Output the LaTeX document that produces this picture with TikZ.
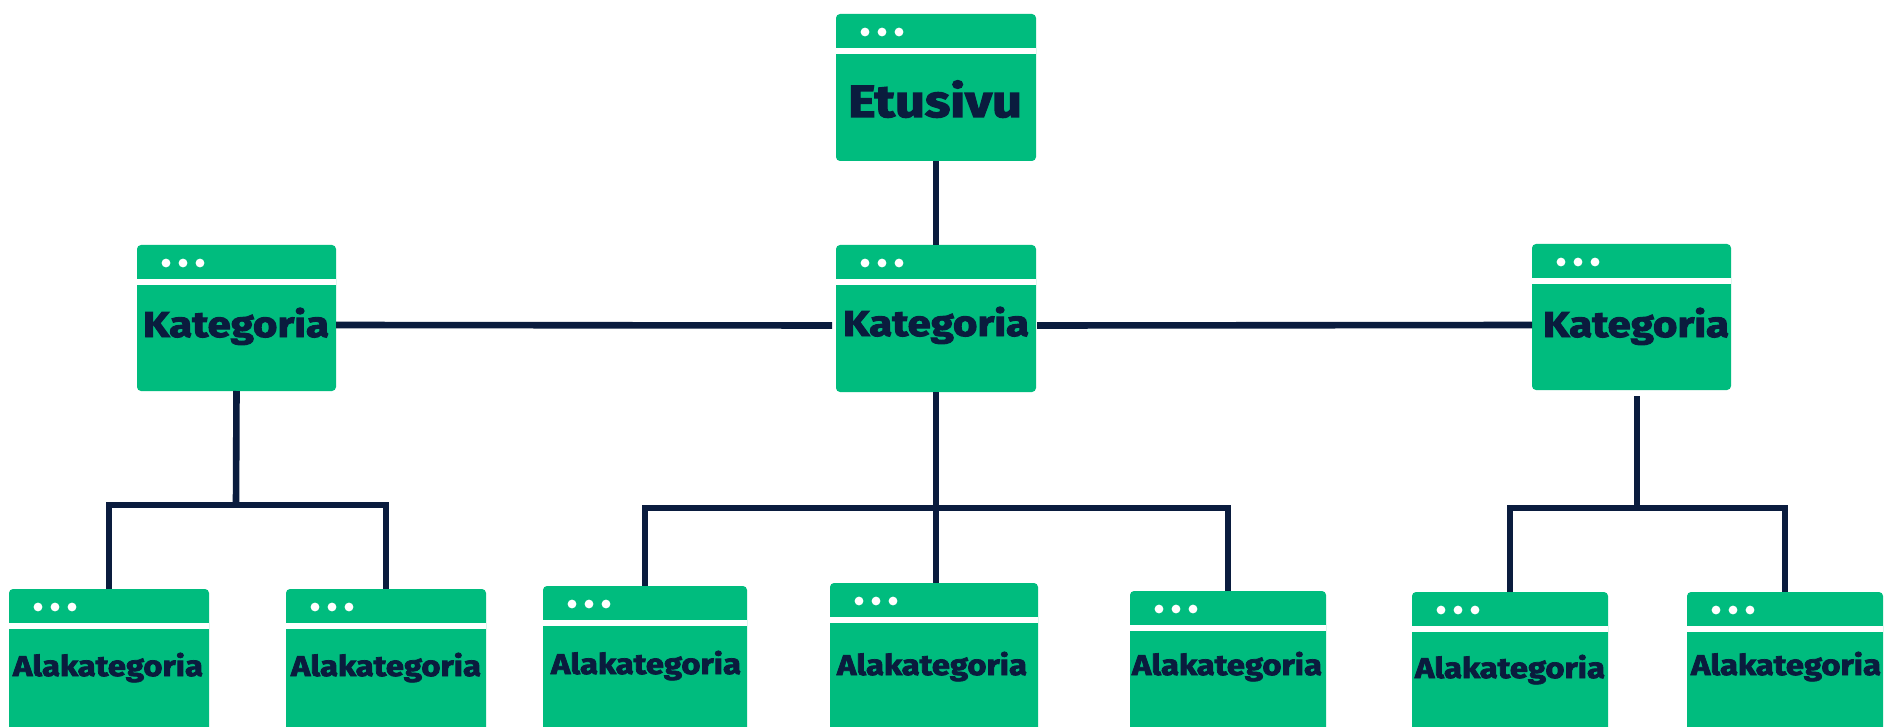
\documentclass[tikz,border=0pt]{standalone}
\usepackage{fontspec}
\usepackage{graphicx}
\usetikzlibrary{fit,calc}
\newfontfamily\labelfont{Fira Sans}[BoldFeatures={FakeBold=2.5}]
\definecolor{wingreen}{RGB}{0,188,126}
\definecolor{navy}{RGB}{10,28,62}
\tikzset{
  win/.style={fill=wingreen, rounded corners=2pt, inner sep=0pt, outer sep=0pt, draw=none},
  conn/.style={draw=navy, line width=3.3pt},
  lbl/.style={anchor=base, inner sep=0pt, outer sep=0pt, text=navy},
}
\newcommand{\winbox}[5]{%
  \node[win, fit={(#2,#3) (#4,#5)}] (#1) {};
  \fill[white] ($(#1.north west)+(0,34)$) rectangle ($(#1.north east)+(0,40)$);
  \foreach \dx in {29,46,63} {\fill[white] ($(#1.north west)+(\dx,18)$) circle[radius=2.2pt];}
}
\newcommand{\toplabel}[1]{\resizebox{87pt}{!}{\scalebox{1}[0.86]{\labelfont\bfseries #1}}}
\newcommand{\catlabel}[1]{\resizebox{93pt}{!}{\scalebox{1}[0.86]{\labelfont\bfseries #1}}}
\newcommand{\sublabel}[1]{\resizebox{95pt}{!}{\scalebox{1}[0.87]{\labelfont\bfseries #1}}}
\begin{document}
\begin{tikzpicture}[x=0.5pt,y=-0.5pt]
\clip (0,0) rectangle (1899,727);
\fill[white] (0,0) rectangle (1899,727);
% windows
\winbox{e}{836}{14}{1036}{161}
\winbox{lk}{137}{245}{336}{391}
\winbox{mk}{836}{245}{1036}{392}
\winbox{rk}{1532}{244}{1731}{390}
\winbox{b1}{9}{589}{209}{745}
\winbox{b2}{286}{589}{486}{745}
\winbox{b3}{543}{586}{747}{745}
\winbox{b4}{830}{583}{1038}{745}
\winbox{b5}{1130}{591}{1326}{745}
\winbox{b6}{1412}{592}{1608}{745}
\winbox{b7}{1687}{592}{1883}{745}
% labels
\node[lbl] (e-l) at (935,117) {\toplabel{Etusivu}};
\node[lbl] (lk-l) at (236,337) {\catlabel{Kategoria}};
\node[lbl] (mk-l) at (936,336) {\catlabel{Kategoria}};
\node[lbl] (rk-l) at (1636,337) {\catlabel{Kategoria}};
\node[lbl] (b1-l) at (108,676) {\sublabel{Alakategoria}};
\node[lbl] (b2-l) at (386,676) {\sublabel{Alakategoria}};
\node[lbl] (b3-l) at (646,674) {\sublabel{Alakategoria}};
\node[lbl] (b4-l) at (932,675) {\sublabel{Alakategoria}};
\node[lbl] (b5-l) at (1227,675) {\sublabel{Alakategoria}};
\node[lbl] (b6-l) at (1510,678) {\sublabel{Alakategoria}};
\node[lbl] (b7-l) at (1786,675) {\sublabel{Alakategoria}};
% connectors
\draw[conn] (e.south) -- (mk.north);
\draw[conn] ($(lk.east)+(0,7)$) -- ($(mk.west)+(-4,7)$);
\draw[conn] ($(mk.east)+(1,7)$) -- ($(rk.west)+(0,8)$);
\coordinate (j1) at (236,505);
\coordinate (j2) at (936,508);
\coordinate (j3) at (1637,508);
\draw[conn] (lk.south) -- (j1);
\draw[conn] (b1.north) |- (j1) -| (b2.north);
\draw[conn] (mk.south) -- (mk.south |- b4.north);
\draw[conn] (b3.north) |- (j2) -| (b5.north);
\coordinate (r0) at ($(rk.south)+(5.5,6)$);
\draw[conn] (r0) -- (j3);
\draw[conn] (b6.north) |- (j3) -| (b7.north);
\end{tikzpicture}
\end{document}
